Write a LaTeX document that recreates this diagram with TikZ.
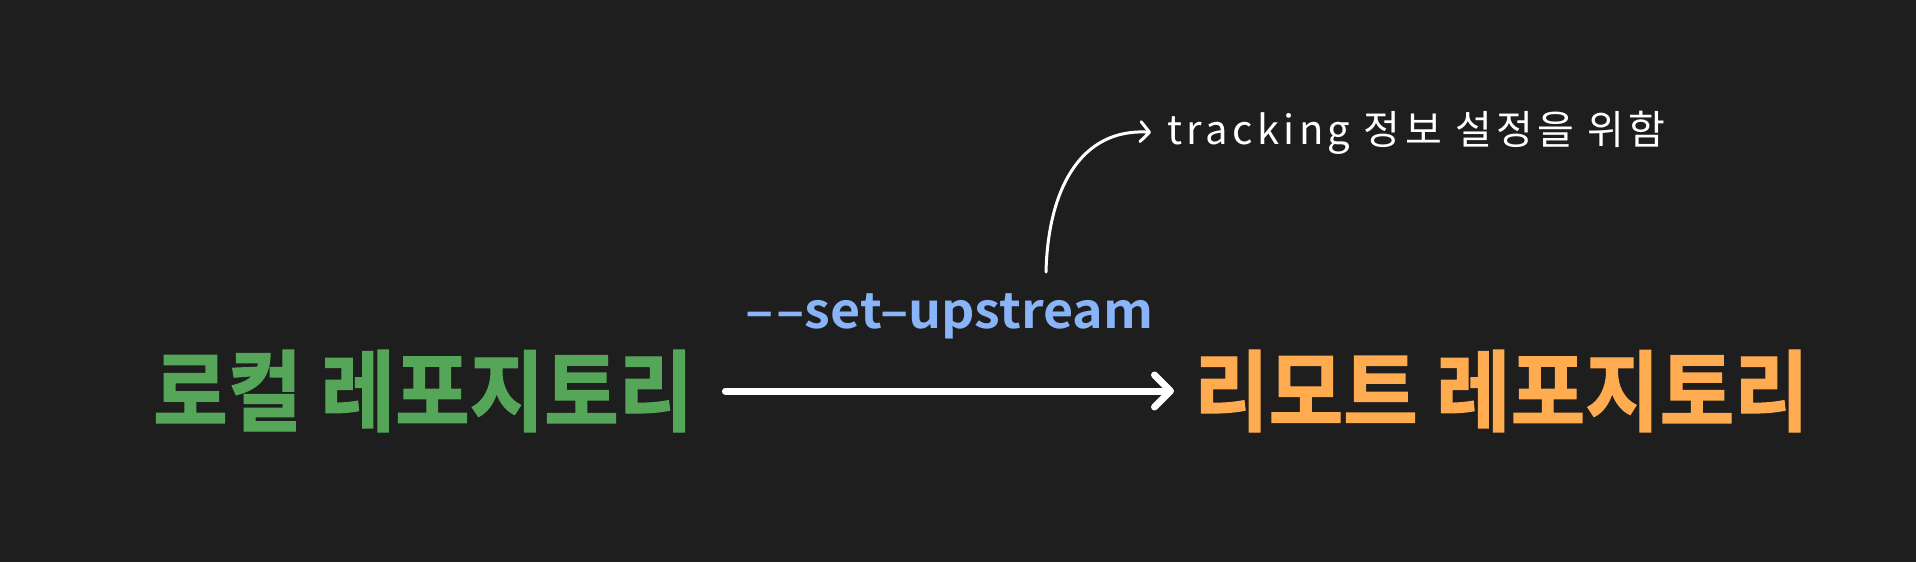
\documentclass[tikz,border=0pt]{standalone}
\usepackage{fontspec}
\usepackage{graphicx}
\usetikzlibrary{arrows.meta}
\newfontfamily\krfont{Noto Sans CJK KR}[BoldFont={Noto Sans CJK KR Bold}]
\newfontfamily\krheavy{Noto Sans CJK KR Bold}[FakeBold=1.5]
\definecolor{bgc}{HTML}{1E1E1E}
\definecolor{gitgreen}{HTML}{56A65A}
\definecolor{gitorange}{HTML}{FFAB50}
\definecolor{gitblue}{HTML}{8AB4F8}
\tikzset{
  bigtxt/.style={inner sep=0pt, font=\krheavy\fontsize{81}{96}\selectfont},
  cmdtxt/.style={inner sep=0pt, text=gitblue, font=\krfont\bfseries\fontsize{49}{58}\selectfont},
  notetxt/.style={inner sep=0pt, text=white, font=\krfont\fontsize{40}{48}\selectfont\addfontfeature{LetterSpace=11}},
  mainarrow/.style={draw=white, line width=7pt, line cap=round, line join=round,
    -{Straight Barb[length=16pt,width=32pt,line cap=round,line join=round]}},
  notearrow/.style={draw=white, line width=3pt, line cap=round,
    -{Straight Barb[length=9pt,width=20pt,line cap=round,line join=round]}}
}
\begin{document}
\begin{tikzpicture}[x=1pt,y=-1pt]
\fill[bgc] (0,0) rectangle (1916,562);
\useasboundingbox (0,0) rectangle (1916,562);
\node[bigtxt, text=gitgreen, anchor=west] (local) at (153,391) {\scalebox{1}[1.09]{로컬 레포지토리}};
\node[bigtxt, text=gitorange, anchor=west] (remote) at (1194,391) {\scalebox{1}[1.09]{리모트 레포지토리}};
\node[cmdtxt, anchor=base west] (cmd) at (745,328) {\scalebox{1.06}[1]{–\kern3pt–set–upstream}};
\node[notetxt, anchor=base west] (note) at (1167,144) {tracking 정보 설정을 위함};
\coordinate (cstart) at (1046,272);
\draw[mainarrow, shorten <=32pt, shorten >=20pt] (local.east) -- (remote.west);
\draw[notearrow] (cstart) .. controls (1048,190) and (1080,128) .. ([xshift=-16pt]note.west);
\end{tikzpicture}
\end{document}
